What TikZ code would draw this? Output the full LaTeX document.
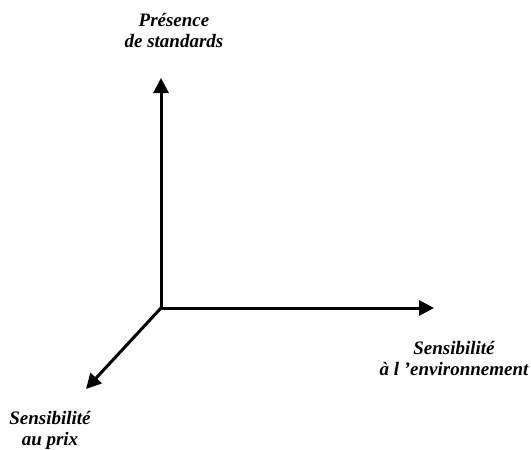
\documentclass[tikz,border=0pt]{standalone}
\usepackage{fontspec}
\setmainfont{Liberation Serif}
\usetikzlibrary{arrows.meta}
\begin{document}
\begin{tikzpicture}[x=1pt,y=-1pt,
  axis/.style={line width=3pt,-{Triangle[length=15pt,width=15pt]}},
  lbl/.style={font=\fontsize{19}{21}\selectfont\bfseries\itshape,align=center,inner sep=0pt,anchor=base}]
\useasboundingbox (0,0) rectangle (531,450);
\coordinate (o) at (161,308);
\coordinate (up) at (161,78);
\coordinate (right) at (434,308);
\coordinate (dl) at (86,389);
\draw[axis,line cap=rect] (o) -- (up);
\draw[axis] (o) -- (right);
\draw[axis] (o) -- (dl);
\node[lbl] (t1) at (174,47) {Présence\\de standards};
\node[lbl] (t2) at (454,375) {Sensibilité\\à l 'environnement};
\node[lbl] (t3) at (50,445) {Sensibilité\\au prix};
\end{tikzpicture}
\end{document}
